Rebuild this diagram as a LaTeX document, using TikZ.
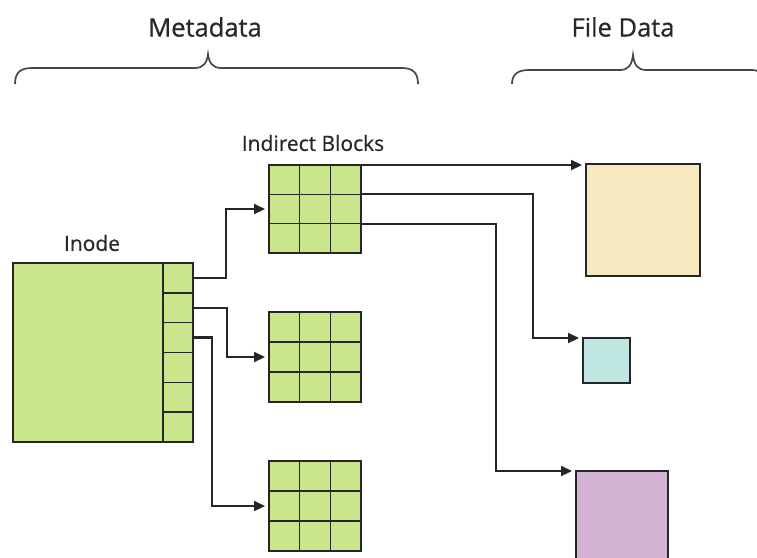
\documentclass[tikz,border=0pt]{standalone}
\usepackage{fontspec}
\setmainfont{Open Sans}[FakeBold=0.6]
\usetikzlibrary{arrows.meta,calc}
\definecolor{leaf}{RGB}{201,230,138}
\definecolor{sand}{RGB}{248,232,192}
\definecolor{aqua}{RGB}{192,230,226}
\definecolor{lilac}{RGB}{212,180,212}
\definecolor{ink}{RGB}{38,38,38}
\definecolor{txt}{RGB}{40,40,40}
\begin{document}
\begin{tikzpicture}[x=1pt,y=-1pt,
  box/.style={draw=ink, line width=2.3pt, inner sep=0pt, outer sep=0pt, anchor=north west},
  cell/.style={draw=ink, line width=1.6pt},
  arr/.style={draw=ink, line width=2.2pt, -{Triangle[length=11pt,width=10pt]}, shorten >=4pt},
  brace/.style={draw=ink!85, line width=1.7pt},
  head/.style={text=txt, font=\fontsize{25.5}{28}\selectfont},
  lbl/.style={text=txt, font=\fontsize{21}{24}\selectfont}]
\clip (0,0) rectangle (757,557);
\fill[white] (0,0) rectangle (757,557);

% labels
\node[head] (meta) at (205,27) {Metadata};
\node[head] (fdata) at (623,27) {File Data};
\node[lbl] (inodelbl) at (92,243) {Inode};
\node[lbl] (iblbl) at (313,143) {Indirect Blocks};

% braces
\draw[brace] (15,84) .. controls (15,73) and (20,68) .. (32,68) -- (195,68)
  .. controls (203,68) and (207,63) .. (208,54)
  .. controls (209,63) and (213,68) .. (221,68) -- (402,68)
  .. controls (413,68) and (418,73) .. (418,84);
\draw[brace] (512,84) .. controls (512,75) and (517,70) .. (529,70) -- (620,70)
  .. controls (628,70) and (632,65) .. (633,55)
  .. controls (634,65) and (638,70) .. (646,70) -- (752,70)
  .. controls (760,70) and (764,75) .. (764,84);

% inode
\node[box, fill=leaf, minimum width=180pt, minimum height=179pt] (inode) at (13,263) {};
\node[inner sep=0pt, outer sep=0pt, minimum width=30pt, minimum height=179pt, anchor=north east] (side) at (inode.north east) {};
\draw[cell] (side.north west) -- (side.south west);
\foreach \k in {1,...,5}
  \draw[cell] ($(side.north west)!\k/6!(side.south west)$) -- ($(side.north east)!\k/6!(side.south east)$);
\coordinate (c1) at ($(side.north east)!1/12!(side.south east)$);
\coordinate (c2) at ($(side.north east)!3/12!(side.south east)$);
\coordinate (c3) at ($(side.north east)!5/12!(side.south east)$);

% indirect blocks
\node[box, fill=leaf, minimum width=92pt, minimum height=88pt] (ib1) at (269,165) {};
\node[box, fill=leaf, minimum width=92pt, minimum height=90pt] (ib2) at (269,312) {};
\node[box, fill=leaf, minimum width=92pt, minimum height=90pt] (ib3) at (269,461) {};
\foreach \b in {ib1,ib2,ib3}
  \foreach \k in {1,2} {
    \draw[cell] ($(\b.north west)!\k/3!(\b.north east)$) -- ($(\b.south west)!\k/3!(\b.south east)$);
    \draw[cell] ($(\b.north west)!\k/3!(\b.south west)$) -- ($(\b.north east)!\k/3!(\b.south east)$);
  }
\draw[box] (ib1.north west) rectangle (ib1.south east);
\draw[box] (ib2.north west) rectangle (ib2.south east);
\draw[box] (ib3.north west) rectangle (ib3.south east);
\draw[box] (inode.north west) rectangle (inode.south east);

% file data
\node[box, fill=sand, minimum width=114pt, minimum height=112pt] (fd1) at (586,164) {};
\node[box, fill=aqua, minimum width=47pt, minimum height=45pt] (fd2) at (583,338) {};
\node[box, fill=lilac, minimum width=92pt, minimum height=100pt] (fd3) at (576,471) {};

% connectors
\draw[arr] (c1) -- ++(33,0) |- (ib1.west);
\draw[arr] (c2) -- ++(34,0) |- (ib2.west);
\draw[arr] (c3) -- ++(19,0) |- (ib3.west);
\coordinate (r1) at ($(ib1.north east)!1/3!(ib1.south east)$);
\coordinate (r2) at ($(ib1.north east)!2/3!(ib1.south east)$);
\draw[arr] (ib1.north east) -- (ib1.north east -| fd1.west);
\draw[arr] (r1) -- ++(172,0) |- (fd2.north west);
\draw[arr] (r2) -- ++(135,0) |- (fd3.north west);
\end{tikzpicture}
\end{document}
